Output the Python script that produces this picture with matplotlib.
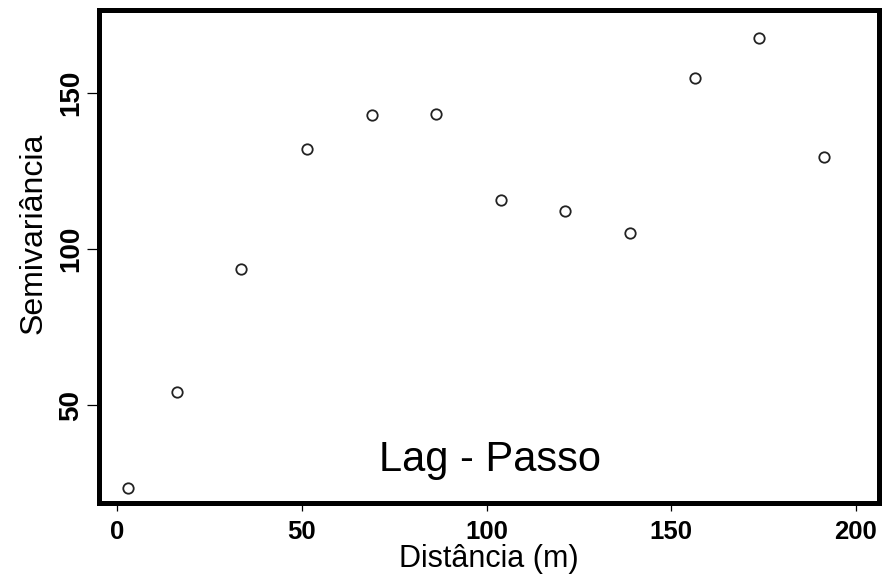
import matplotlib
matplotlib.use("Agg")
import matplotlib.pyplot as plt

# Data
distancia = [2.9, 16.2, 33.5, 51.3, 68.9, 86.3, 103.8, 121.3, 138.9, 156.5, 173.9, 191.5]
semivariancia = [23.4, 54.2, 93.6, 132.2, 142.9, 143.4, 115.8, 112.3, 105.3, 154.9, 167.6, 129.6]
xticks = [0, 50, 100, 150, 200]
yticks = [50, 100, 150]

plt.rcParams['font.family'] = ['Liberation Sans', 'DejaVu Sans']

W, H = 885, 580
fig = plt.figure(figsize=(W / 100, H / 100), dpi=100)
left, right, top, bottom = 98.5, 879, 10, 503
ax = fig.add_axes([left / W, 1 - bottom / H, (right - left) / W, (bottom - top) / H])

ax.plot(distancia, semivariancia, linestyle='none', marker='o', markersize=7.5,
        markerfacecolor='none', markeredgecolor='#222222', markeredgewidth=1.3)

ax.set_xlim(-5.1, 206.3)
ax.set_ylim(18.6, 176.7)
ax.set_xticks(xticks)
ax.set_yticks(yticks)
ax.set_xticklabels([str(v) for v in xticks], fontsize=18.5, fontweight='bold')
ax.set_yticklabels([str(v) for v in yticks], fontsize=20, fontweight='bold',
                   rotation=90, va='center')

for s in ax.spines.values():
    s.set_linewidth(3.6)
    s.set_color('black')

ax.tick_params(axis='x', direction='out', length=6, width=0.9, pad=6)
ax.tick_params(axis='y', direction='out', length=8.5, width=0.9, pad=2)

ax.set_xlabel('Distância (m)', fontsize=22, labelpad=0)
ax.set_ylabel('Semivariância', fontsize=23, labelpad=7, y=0.548)

ax.text(100.9, 32.4, 'Lag - Passo', fontsize=30, ha='center', va='center')

fig.savefig('out.png', dpi=100)
